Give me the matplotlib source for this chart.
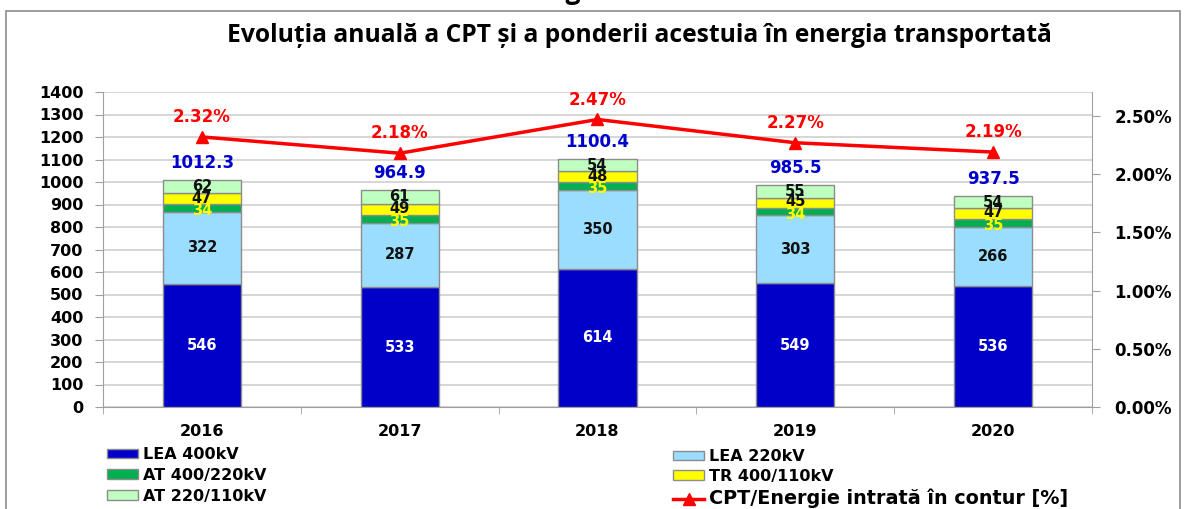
import numpy as np
import matplotlib
matplotlib.use("Agg")
import matplotlib.pyplot as plt
from matplotlib.patches import Rectangle
from matplotlib.ticker import FuncFormatter

# Date
years = ["2016", "2017", "2018", "2019", "2020"]
lea400 = [546, 533, 614, 549, 536]
lea220 = [322, 287, 350, 303, 266]
at400_220 = [34, 35, 35, 34, 35]
tr400_110 = [47, 49, 48, 45, 47]
at220_110 = [62, 61, 54, 55, 54]
totals = [1012.3, 964.9, 1100.4, 985.5, 937.5]
cpt_pct = [2.32, 2.18, 2.47, 2.27, 2.19]

series = [
    ("LEA 400kV", lea400, "#0000C8", "white"),
    ("LEA 220kV", lea220, "#9BDDFF", "#111111"),
    ("AT 400/220kV", at400_220, "#00B050", "#FFFF00"),
    ("TR 400/110kV", tr400_110, "#FFFF00", "#111111"),
    ("AT 220/110kV", at220_110, "#BFFFBF", "#111111"),
]

BOLD = dict(fontweight="bold", family="DejaVu Sans")

W, H = 1189, 509
fig = plt.figure(figsize=(W / 100, H / 100), dpi=100)

# chenar exterior
fig.add_artist(Rectangle((6 / W, -0.05), (1180 - 6) / W, 1.05 - 11 / H,
                         transform=fig.transFigure, fill=False,
                         edgecolor="#8C8C8C", lw=1.2))
# rest din legenda figurii (taiat sus)
fig.text(0.5, 1 + 1 / H, "Figura 6", ha="center", va="baseline",
         fontsize=19, fontweight="bold", family="Open Sans")

ax = fig.add_axes([103 / W, (H - 407) / H, (1092 - 103) / W, (407 - 92) / H])
x = np.arange(len(years))
bw = 0.395

bottom = np.zeros(len(years))
handles = []
for name, vals, col, tcol in series:
    vals = np.array(vals, dtype=float)
    b = ax.bar(x, vals, bw, bottom=bottom, color=col, edgecolor="#8C8C8C",
               linewidth=1, zorder=3, label=name)
    handles.append(b)
    for xi, v, b0 in zip(x, vals, bottom):
        yc = b0 + v / 2
        if name == "AT 400/220kV":
            yc = b0 + v / 2 - 12
        if name == "TR 400/110kV":
            yc = b0 + v / 2 + 3
        ax.text(xi, yc, f"{v:.0f}", ha="center", va="center", color=tcol,
                fontsize=10.5, zorder=5, **BOLD)
    bottom = bottom + vals

for xi, t, top in zip(x, totals, bottom):
    ax.text(xi, top + 75, f"{t:.1f}", ha="center", va="center", color="#0000CC",
            fontsize=12, **BOLD)

ax.set_xlim(-0.5, len(years) - 0.5)
ax.set_ylim(0, 1400)
ax.set_yticks(np.arange(0, 1401, 100))
ax.yaxis.grid(True, color="#D0D0D0", lw=1.2, zorder=0)
ax.set_axisbelow(True)
ax.set_xticks(x)
ax.set_xticks(np.arange(-0.5, len(years)), minor=True)
ax.set_xticklabels(years, fontsize=11.5, **BOLD)
ax.tick_params(axis="x", which="major", length=0, pad=12)
ax.tick_params(axis="x", which="minor", length=5, color="#A0A0A0")
ax.tick_params(axis="y", length=6, color="#A0A0A0", pad=8)
for lab in ax.get_yticklabels():
    lab.set_fontsize(11.5)
    lab.set_fontweight("bold")
    lab.set_family("DejaVu Sans")
for s in ["top", "right"]:
    ax.spines[s].set_visible(False)
for s in ["left", "bottom"]:
    ax.spines[s].set_color("#A0A0A0")

ax2 = ax.twinx()
ax2.set_ylim(0, 2.706)
ax2.set_yticks(np.arange(0, 2.51, 0.5))
ax2.yaxis.set_major_formatter(FuncFormatter(lambda v, p: f"{v:.2f}%"))
ax2.tick_params(axis="y", length=6, color="#A0A0A0", pad=10)
for lab in ax2.get_yticklabels():
    lab.set_fontsize(12)
    lab.set_fontweight("bold")
    lab.set_family("DejaVu Sans")
for s in ["top", "left", "bottom"]:
    ax2.spines[s].set_visible(False)
ax2.spines["right"].set_color("#A0A0A0")
line, = ax2.plot(x, cpt_pct, color="#FF0000", lw=2.5, marker="^", ms=8,
                 zorder=6, label="CPT/Energie intrată în contur [%]")
for xi, p in zip(x, cpt_pct):
    ax2.text(xi, p + 0.17, f"{p:.2f}%", ha="center", va="center", color="#FF0000",
             fontsize=12, **BOLD)

fig.text(639 / W, (H - 36) / H, "Evoluția anuală a CPT și a ponderii acestuia în energia transportată",
         ha="center", va="center", fontsize=17.7, fontweight="bold", family="Open Sans")

leg_font = {"family": "DejaVu Sans", "weight": "bold", "size": 11.5}
common = dict(loc="upper left", frameon=False, prop=leg_font, handlelength=1.95,
              handleheight=0.55, handletextpad=0.3, labelspacing=0.36,
              borderaxespad=0, borderpad=0)
fig.legend([handles[0], handles[2], handles[4]],
           ["LEA 400kV", "AT 400/220kV", "AT 220/110kV"],
           bbox_to_anchor=(107 / W, (H - 447) / H), **common)
leg2 = fig.legend([handles[1], handles[3], line],
                  ["LEA 220kV", "TR 400/110kV", "CPT/Energie intrată în contur [%]"],
                  bbox_to_anchor=(673 / W, (H - 449) / H),
                  **dict(common, labelspacing=0.3))
leg2.get_texts()[2].set_fontsize(13.8)

fig.savefig("out.png", dpi=100)
